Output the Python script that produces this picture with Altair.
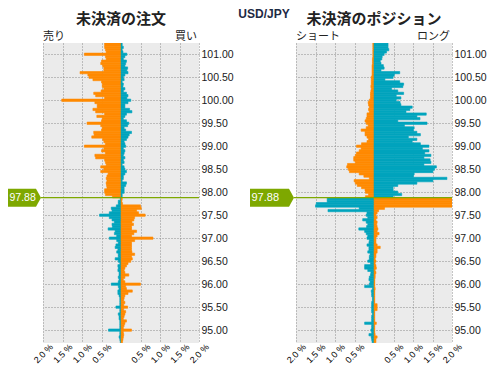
import altair as alt
import pandas as pd

CURRENT_PRICE = 97.88
TOP_PRICE = 101.25
STEP = 0.05
N_BINS = 131
PRICES = [round(TOP_PRICE - STEP * k, 2) for k in range(N_BINS)]

ORANGE = "#ff8a00"
TEAL = "#00a4bd"
GREEN = "#7ea800"

# Open orders (% of total), left side / right side, from 101.25 down to 94.75
order_left = [0.42,
    0.42, 0.42, 0.40, 0.38, 0.94, 0.40, 0.38, 0.50, 0.52, 0.47,
    0.44, 0.44, 1.05, 0.85, 0.82, 0.72, 0.50, 0.48, 0.48, 0.44,
    0.51, 0.70, 0.65, 0.42, 1.52, 0.67, 0.61, 0.61, 0.72, 0.65,
    0.42, 0.62, 0.48, 0.50, 0.87, 0.52, 0.48, 0.50, 0.70, 0.69,
    0.75, 0.47, 0.44, 0.40, 0.94, 0.44, 0.50, 0.40, 0.67, 0.65,
    0.42, 0.40, 0.38, 0.52, 0.44, 0.52, 0.33, 0.36, 0.38, 0.36,
    0.38, 0.37, 0.36, 0.42, 0.42, 0.40, 0.22,
    0.02, 0.07, 0.07,
    0.12, 0.25, 0.23, 0.30, 0.55, 0.30, 0.23, 0.17, 0.23, 0.22,
    0.33, 0.15, 0.17, 0.11, 0.30, 0.11, 0.07, 0.13, 0.15, 0.08,
    0.11, 0.07, 0.07, 0.15, 0.07, 0.03, 0.08, 0.07, 0.08, 0.05,
    0.05, 0.07, 0.05, 0.07, 0.25, 0.07, 0.05, 0.08, 0.08, 0.05,
    0.03, 0.03, 0.03, 0.03, 0.13, 0.03, 0.03, 0.07, 0.05, 0.05,
    0.03, 0.03, 0.03, 0.03, 0.32, 0.03, 0.03, 0.05, 0.03, 0.02]

order_right = [0.03,
    0.03, 0.06, 0.03, 0.05, 0.15, 0.10, 0.06, 0.14, 0.12, 0.10,
    0.17, 0.15, 0.18, 0.10, 0.06, 0.08, 0.03, 0.06, 0.05, 0.10,
    0.06, 0.14, 0.18, 0.15, 0.25, 0.18, 0.10, 0.10, 0.22, 0.28,
    0.14, 0.10, 0.06, 0.14, 0.20, 0.17, 0.08, 0.12, 0.27, 0.21,
    0.18, 0.14, 0.08, 0.10, 0.12, 0.06, 0.10, 0.08, 0.06, 0.10,
    0.06, 0.08, 0.03, 0.08, 0.10, 0.14, 0.10, 0.06, 0.06, 0.03,
    0.14, 0.12, 0.08, 0.08, 0.08, 0.03, 0.03,
    0.03, 0.02, 0.04,
    0.50, 0.52, 0.40, 0.45, 0.62, 0.35, 0.33, 0.28, 0.32, 0.27,
    0.27, 0.40, 0.33, 0.27, 0.82, 0.35, 0.27, 0.27, 0.27, 0.27,
    0.28, 0.35, 0.27, 0.29, 0.25, 0.18, 0.14, 0.10, 0.08, 0.10,
    0.20, 0.10, 0.06, 0.10, 0.50, 0.12, 0.14, 0.29, 0.18, 0.10,
    0.08, 0.07, 0.10, 0.07, 0.17, 0.07, 0.12, 0.10, 0.08, 0.06,
    0.14, 0.10, 0.08, 0.06, 0.27, 0.06, 0.07, 0.06, 0.05, 0.04]

# Open positions (% of total)
pos_left = [0.03,
    0.03, 0.03, 0.03, 0.03, 0.03, 0.03, 0.04, 0.04, 0.04, 0.05,
    0.05, 0.05, 0.05, 0.05, 0.07, 0.07, 0.07, 0.07, 0.08, 0.07,
    0.08, 0.09, 0.09, 0.09, 0.12, 0.15, 0.14, 0.12, 0.14, 0.12,
    0.18, 0.18, 0.20, 0.23, 0.20, 0.15, 0.20, 0.33, 0.23, 0.23,
    0.18, 0.14, 0.18, 0.32, 0.45, 0.33, 0.38, 0.45, 0.48, 0.52,
    0.52, 0.48, 0.68, 0.70, 0.66, 0.63, 0.38, 0.26, 0.12, 0.51,
    0.48, 0.43, 0.32, 0.23, 0.22, 0.14, 0.22,
    1.20, 1.20, 1.48,
    1.50, 0.38, 1.18, 0.18, 0.20, 0.16, 0.29, 0.20, 0.16, 0.19,
    0.39, 0.24, 0.20, 0.16, 0.18, 0.12, 0.13, 0.18, 0.13, 0.13,
    0.16, 0.10, 0.12, 0.12, 0.16, 0.09, 0.24, 0.24, 0.16, 0.08,
    0.09, 0.12, 0.13, 0.10, 0.12, 0.24, 0.04, 0.07, 0.06, 0.06,
    0.04, 0.04, 0.06, 0.06, 0.06, 0.06, 0.06, 0.04, 0.06, 0.06,
    0.06, 0.24, 0.06, 0.06, 0.08, 0.06, 0.13, 0.07, 0.06, 0.05]

pos_right = [0.36,
    0.36, 0.36, 0.38, 0.32, 0.26, 0.21, 0.20, 0.16, 0.18, 0.24,
    0.26, 0.18, 0.66, 0.52, 0.49, 0.28, 0.66, 0.76, 0.74, 0.45,
    0.61, 0.76, 0.57, 0.69, 0.57, 0.67, 0.69, 0.98, 0.92, 0.82,
    1.34, 1.10, 1.18, 0.61, 1.36, 0.78, 1.03, 1.01, 1.10, 1.19,
    0.88, 1.10, 0.98, 1.19, 1.41, 1.24, 1.41, 1.30, 1.46, 1.28,
    1.44, 1.46, 1.28, 1.60, 1.55, 1.51, 1.03, 1.01, 1.87, 1.51,
    1.10, 0.61, 0.49, 0.49, 0.61, 0.71, 0.49,
    2.00, 2.00, 2.00,
    2.00, 0.27, 0.12, 0.08, 0.05, 0.08, 0.05, 0.08, 0.07, 0.08,
    0.10, 0.08, 0.13, 0.08, 0.05, 0.05, 0.05, 0.08, 0.16, 0.08,
    0.08, 0.05, 0.05, 0.03, 0.05, 0.03, 0.05, 0.06, 0.03, 0.05,
    0.03, 0.03, 0.02, 0.02, 0.02, 0.02, 0.03, 0.02, 0.02, 0.02,
    0.02, 0.02, 0.02, 0.08, 0.08, 0.08, 0.02, 0.02, 0.02, 0.02,
    0.02, 0.06, 0.02, 0.02, 0.02, 0.02, 0.03, 0.08, 0.05, 0.05]

Y_TICKS = [95.0, 95.5, 96.0, 96.5, 97.0, 97.5, 98.0, 98.5, 99.0, 99.5, 100.0, 100.5, 101.0]
X_TICKS = [-2, -1.5, -1, -0.5, 0.5, 1, 1.5, 2]

LABEL_FONT = "Liberation Sans"
CJK_FONT = "Noto Sans CJK JP"
W = 156
H = 300

yscale = alt.Scale(domain=[94.72, 101.245], nice=False, zero=False)
xscale = alt.Scale(domain=[-2, 2], nice=False, zero=False)

y_axis = alt.Axis(
    orient="right", values=Y_TICKS, format=".2f", ticks=False,
    domain=False, grid=True, gridColor="#8a8a8a", gridDash=[1, 2],
    labelPadding=2, labelFontSize=10.5, labelColor="#1a1a1a",
    labelFont=LABEL_FONT, title=None)

x_axis = alt.Axis(
    values=X_TICKS, labelExpr="format(abs(datum.value), '.1f') + ' %'",
    labelAngle=-45, labelAlign="center", labelBaseline="middle",
    labelPadding=10, labelOverlap=False, ticks=False, domain=False, grid=True,
    gridColor="#8a8a8a", gridDash=[1, 2], title=None,
    labelFontSize=9, labelColor="#000000", labelFont=LABEL_FONT)


def build_df(left, right):
    rows = []
    for p, lv, rv in zip(PRICES, left, right):
        above = p > CURRENT_PRICE
        rows.append({"lo": p - STEP / 2, "hi": p + STEP / 2, "v": -lv, "z": 0,
                     "c": ORANGE if above else TEAL})
        rows.append({"lo": p - STEP / 2, "hi": p + STEP / 2, "v": rv, "z": 0,
                     "c": TEAL if above else ORANGE})
    return pd.DataFrame(rows)


def text_layer(txt, x, y, size, align="center", weight="normal", font=CJK_FONT,
               color="#222222", baseline="middle"):
    return alt.Chart(pd.DataFrame({"t": [txt]})).mark_text(
        align=align, baseline=baseline, fontSize=size, fontWeight=weight,
        font=font, color=color
    ).encode(text="t:N", x=alt.value(x), y=alt.value(y))


def panel(df, title, left_lbl, right_lbl, marker_w, marker_font, extra=None):
    bars = alt.Chart(df).mark_bar(clip=True, strokeWidth=0.6).encode(
        x=alt.X("v:Q", scale=xscale, axis=x_axis),
        x2="z:Q",
        y=alt.Y("lo:Q", scale=yscale, axis=y_axis),
        y2="hi:Q",
        color=alt.Color("c:N", scale=None),
        stroke=alt.Stroke("c:N", scale=None),
    )
    pdf = pd.DataFrame({"p": [CURRENT_PRICE], "t": [f"{CURRENT_PRICE:.2f}"]})
    rule = alt.Chart(pdf).mark_rule(color=GREEN, strokeWidth=1.2).encode(
        y=alt.Y("p:Q", scale=yscale, axis=y_axis),
        x=alt.value(-2), x2=alt.value(W))
    half = marker_w / 2.0
    hy = 9.0 / half
    tip = 1 - 2 * 5.0 / marker_w
    shape = f"M-1,-{hy:.3f}L{tip:.3f},-{hy:.3f}L1,0L{tip:.3f},{hy:.3f}L-1,{hy:.3f}Z"
    marker = alt.Chart(pdf).mark_point(
        shape=shape, filled=True, opacity=1, strokeWidth=0, color=GREEN,
        size=marker_w * marker_w
    ).encode(y=alt.Y("p:Q", scale=yscale, axis=y_axis), x=alt.value(-2 - half))
    mtext = alt.Chart(pdf).mark_text(
        align="left", baseline="middle", color="white", fontSize=marker_font,
        font=LABEL_FONT
    ).encode(text="t:N", y=alt.Y("p:Q", scale=yscale, axis=y_axis),
             x=alt.value(-2 - marker_w + 1.5))
    layers = [bars, rule, marker, mtext,
              text_layer(title, W / 2, -24, 15, weight="bold"),
              text_layer(left_lbl, 0, -6, 11, align="left"),
              text_layer(right_lbl, W - 2, -6, 11, align="right")]
    if extra is not None:
        layers.append(extra)
    return alt.layer(*layers).properties(width=W, height=H)


title_layer = text_layer("USD/JPY", 221, -34, 12, weight="bold", font=LABEL_FONT,
                         color="#1e2a44", baseline="top")

left = panel(build_df(order_left, order_right), "未決済の注文", "売り", "買い", 33, 10.5,
             extra=title_layer)
right = panel(build_df(pos_left, pos_right), "未決済のポジション", "ショート", "ロング", 44, 11)

chart = alt.hconcat(left, right, spacing=97, bounds="flush").properties(
    padding=0
).configure_view(fill="#ebebeb", stroke=None)

chart.save("out.html", embed_options={"renderer": "svg", "actions": False})
